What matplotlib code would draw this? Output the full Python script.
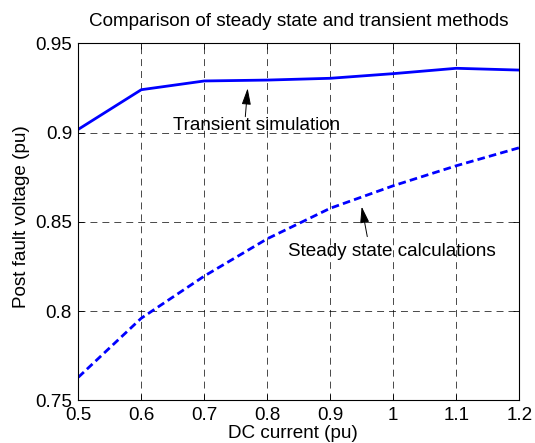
import matplotlib
matplotlib.use("Agg")
import matplotlib.pyplot as plt

plt.rcParams['font.family'] = ['Liberation Sans', 'DejaVu Sans']
plt.rcParams['lines.scale_dashes'] = False

dc_current = [0.5, 0.6, 0.7, 0.8, 0.9, 1.0, 1.1, 1.2]
transient = [0.9018, 0.924, 0.9289, 0.9294, 0.9304, 0.933, 0.936, 0.935]
steady = [0.7629, 0.796, 0.8196, 0.8405, 0.8576, 0.8702, 0.8814, 0.8915]
xticks = [0.5, 0.6, 0.7, 0.8, 0.9, 1.0, 1.1, 1.2]
xticklabels = ['0.5', '0.6', '0.7', '0.8', '0.9', '1', '1.1', '1.2']
yticks = [0.75, 0.8, 0.85, 0.9, 0.95]
yticklabels = ['0.75', '0.8', '0.85', '0.9', '0.95']

FS = 13.6

fig = plt.figure(figsize=(5.35, 4.43), dpi=100)
ax = fig.add_axes([78.3/535, 1 - 400.3/443, (519.3-78.3)/535, (400.3-43.3)/443])

ax.plot(dc_current, transient, color='#0000ff', lw=2.0, solid_joinstyle='round')
ax.plot(dc_current, steady, color='#0000ff', lw=2.0, linestyle=(0, (5.5, 3.0)))

ax.set_xlim(0.5, 1.2)
ax.set_ylim(0.75, 0.95)
ax.set_xticks(xticks)
ax.set_xticklabels(xticklabels)
ax.set_yticks(yticks)
ax.set_yticklabels(yticklabels)
ax.tick_params(direction='in', top=True, right=True, labelsize=FS, length=4, width=0.6)
ax.tick_params(axis='x', pad=4.5)
ax.tick_params(axis='y', pad=4.5)
ax.grid(True, color='black', linestyle=(0, (5, 3.6)), lw=0.5)
for s in ax.spines.values():
    s.set_linewidth(0.8)

ax.set_title('Comparison of steady state and transient methods', fontsize=FS,
             y=(400.3-21.7)/357, va='center', pad=0)
ax.set_xlabel('DC current (pu)', fontsize=FS, va='center')
ax.xaxis.set_label_coords((292.5-78.3)/441, -(433-400.3)/357)
ax.set_ylabel('Post fault voltage (pu)', fontsize=FS, va='center')
ax.yaxis.set_label_coords((21.7-78.3)/441, (400.3-216.7)/357)

arrow = dict(arrowstyle='-|>,head_length=1.0,head_width=0.28', color='black', lw=0.7,
             shrinkA=0, shrinkB=0)
ax.text(0.7835, 0.9039, 'Transient simulation', fontsize=FS, ha='center', va='center')
ax.annotate('', xy=(0.7688, 0.9248), xytext=(0.7651, 0.9089), arrowprops=arrow)
ax.text(0.9973, 0.8333, 'Steady state calculations', fontsize=FS, ha='center', va='center')
ax.annotate('', xy=(0.9498, 0.8585), xytext=(0.9587, 0.8417), arrowprops=arrow)

fig.savefig('out.png', dpi=100)
